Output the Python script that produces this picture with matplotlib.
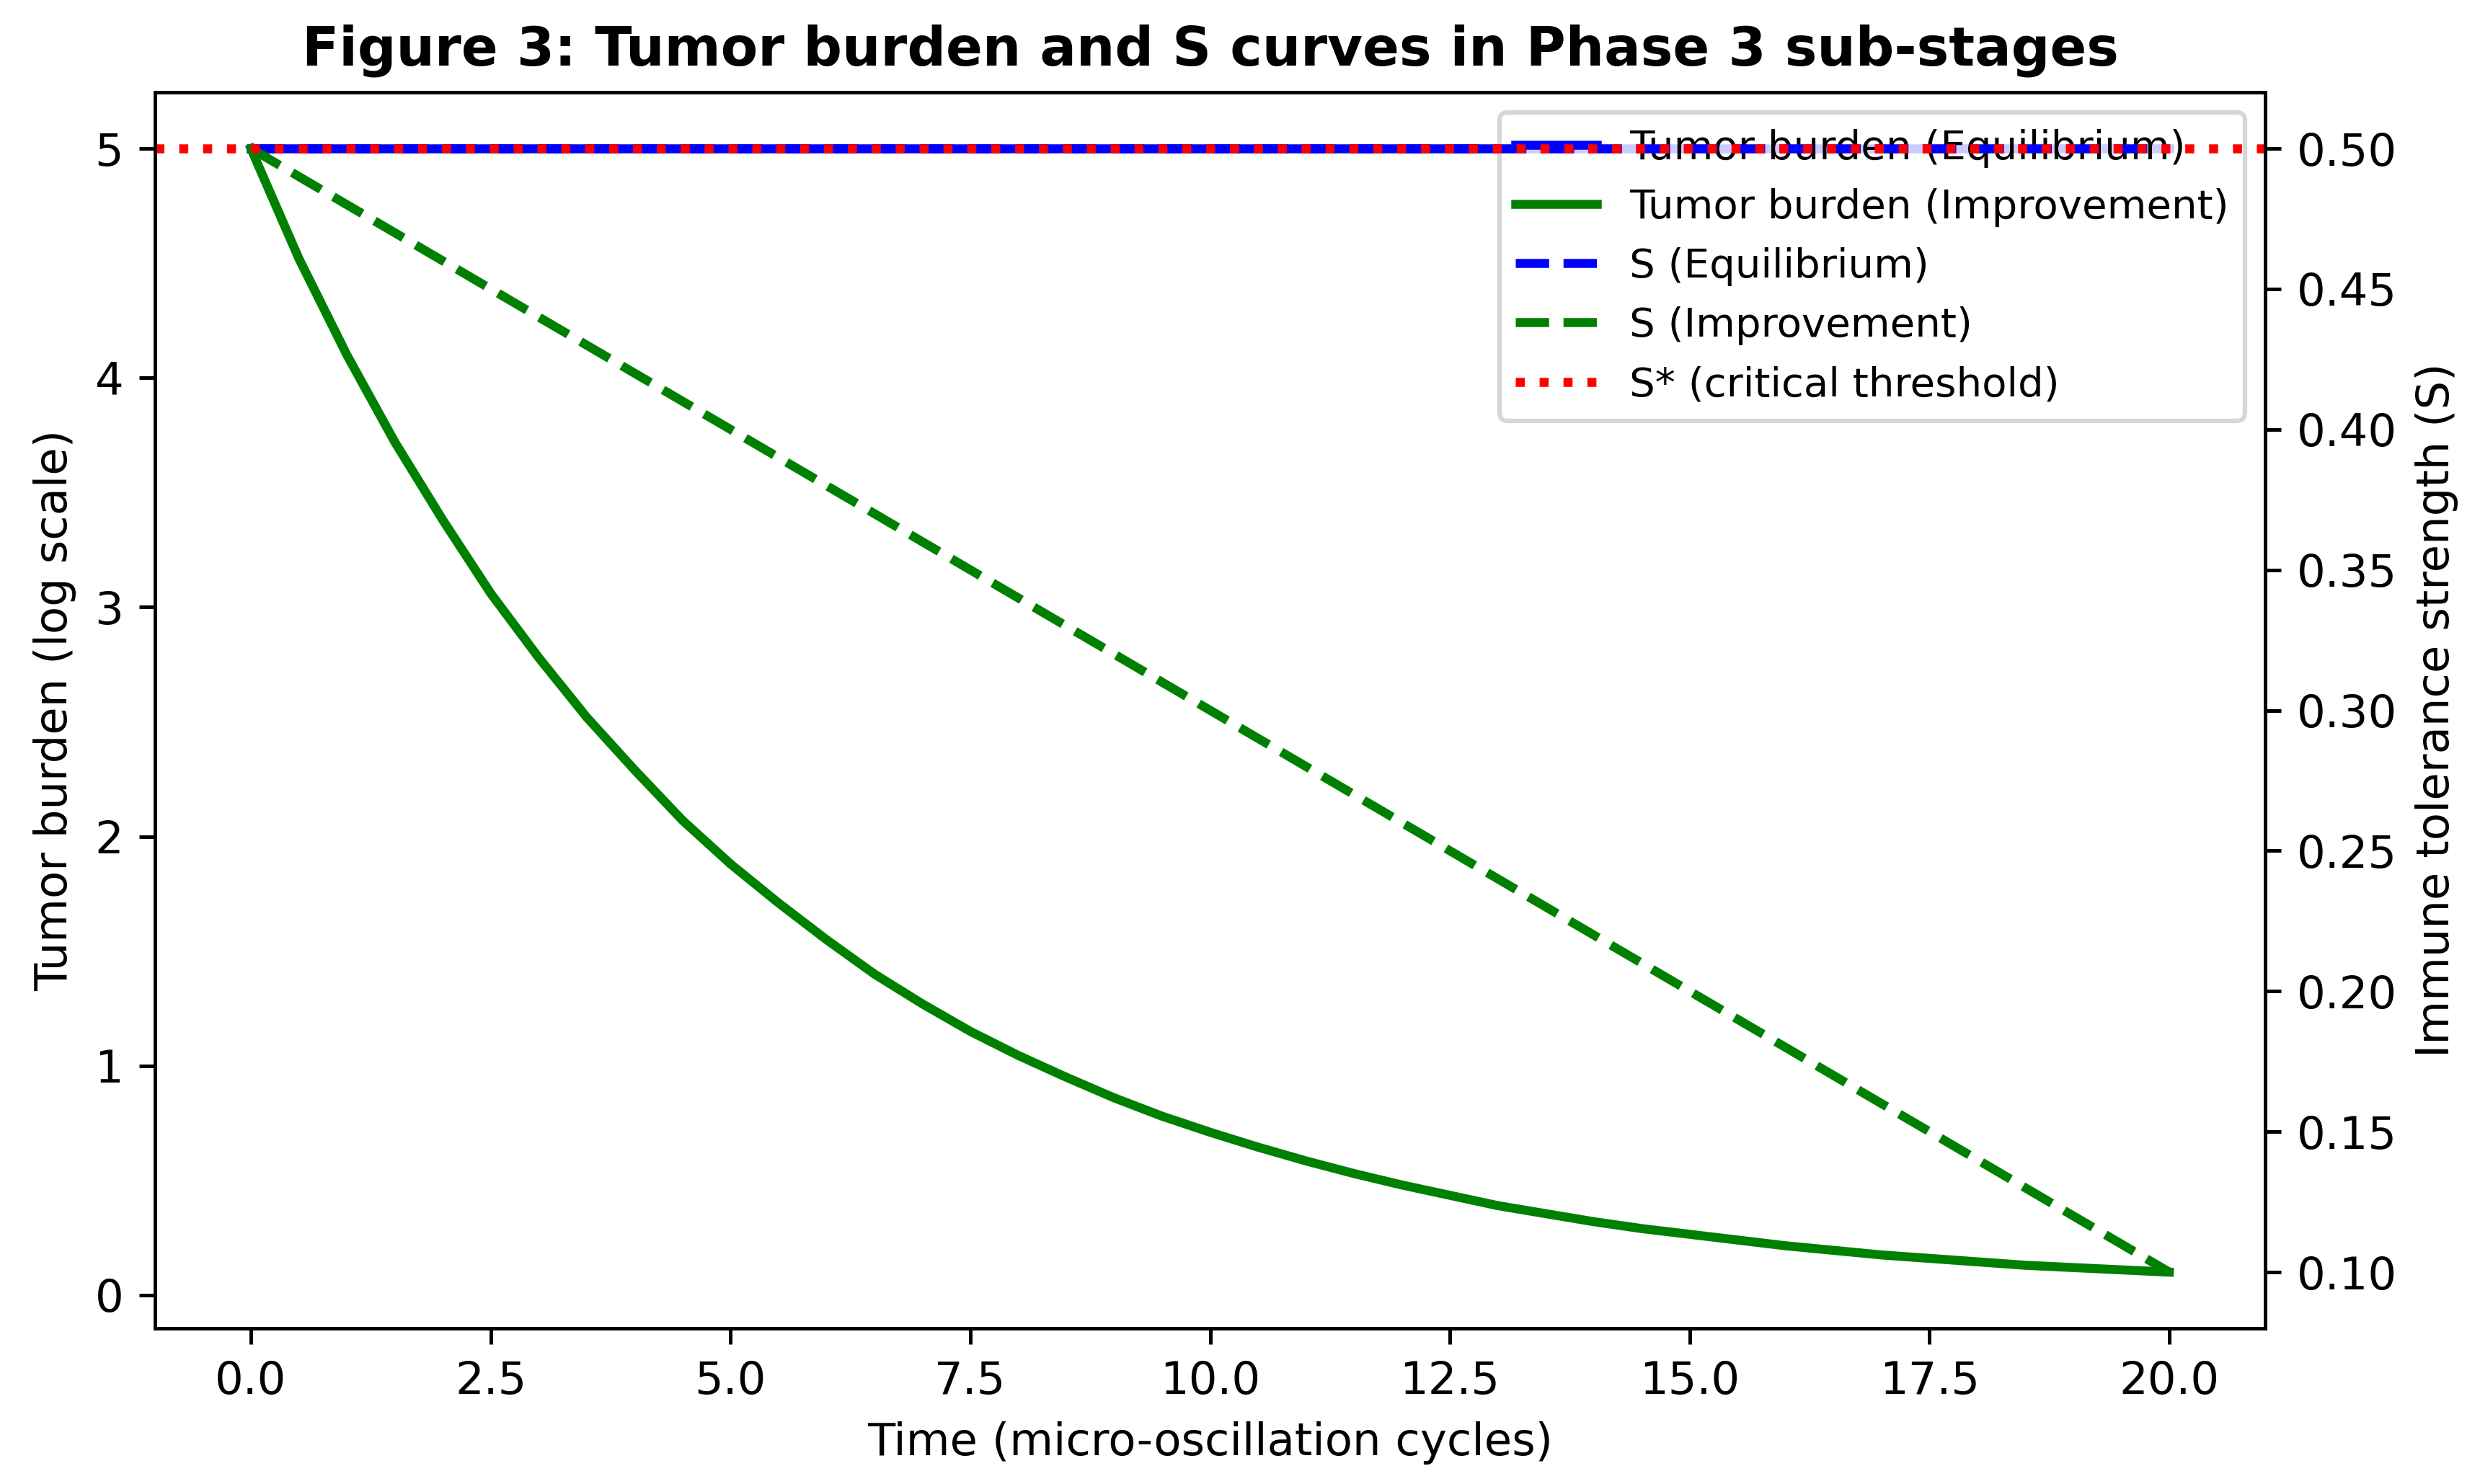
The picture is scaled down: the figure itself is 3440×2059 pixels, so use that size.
import matplotlib
matplotlib.use("Agg")
import matplotlib.pyplot as plt

# values
time = [0, 0.5, 1, 1.5, 2, 2.5, 3, 3.5, 4, 4.5, 5, 5.5, 6, 6.5, 7, 7.5, 8, 8.5, 9, 9.5,
        10, 10.5, 11, 11.5, 12, 12.5, 13, 13.5, 14, 14.5, 15, 15.5, 16, 16.5, 17, 17.5,
        18, 18.5, 19, 19.5, 20]
tumor_equilibrium = [5.0] * len(time)
tumor_improvement = [5.0, 4.52, 4.1, 3.72, 3.38, 3.06, 2.78, 2.52, 2.29, 2.07,
                     1.88, 1.71, 1.55, 1.40, 1.27, 1.15, 1.045, 0.95, 0.86, 0.78,
                     0.71, 0.645, 0.585, 0.53, 0.48, 0.435, 0.39, 0.355, 0.32, 0.29,
                     0.265, 0.24, 0.215, 0.195, 0.175, 0.16, 0.145, 0.13, 0.12, 0.11, 0.10]
s_time = [0, 20]
s_equilibrium = [0.5, 0.5]
s_improvement = [0.5, 0.1]
s_critical = 0.5

DPI = 450
fig = plt.figure(figsize=(3440 / DPI, 2059 / DPI), dpi=DPI)
ax1 = fig.add_subplot(111)
fig.subplots_adjust(left=0.0625, right=0.9134, top=0.9378, bottom=0.1049)

l1, = ax1.plot(time, tumor_equilibrium, color="blue", lw=2, label="Tumor burden (Equilibrium)")
l2, = ax1.plot(time, tumor_improvement, color="green", lw=2, label="Tumor burden (Improvement)")
ax1.set_xlabel("Time (micro-oscillation cycles)")
ax1.set_ylabel("Tumor burden (log scale)")

ax2 = ax1.twinx()
l3, = ax2.plot(s_time, s_equilibrium, color="blue", ls="--", lw=2, label="S (Equilibrium)")
l4, = ax2.plot(s_time, s_improvement, color="green", ls="--", lw=2, label="S (Improvement)")
l5 = ax2.axhline(s_critical, color="red", ls=":", lw=2, label="S* (critical threshold)")
ax2.set_ylabel("Immune tolerance strength (S)")

ax1.legend(handles=[l1, l2, l3, l4, l5], loc="upper right", fontsize=9)
ax1.set_title("Figure 3: Tumor burden and S curves in Phase 3 sub-stages", fontweight="bold", fontsize=12)

fig.savefig("out.png", dpi=DPI)
